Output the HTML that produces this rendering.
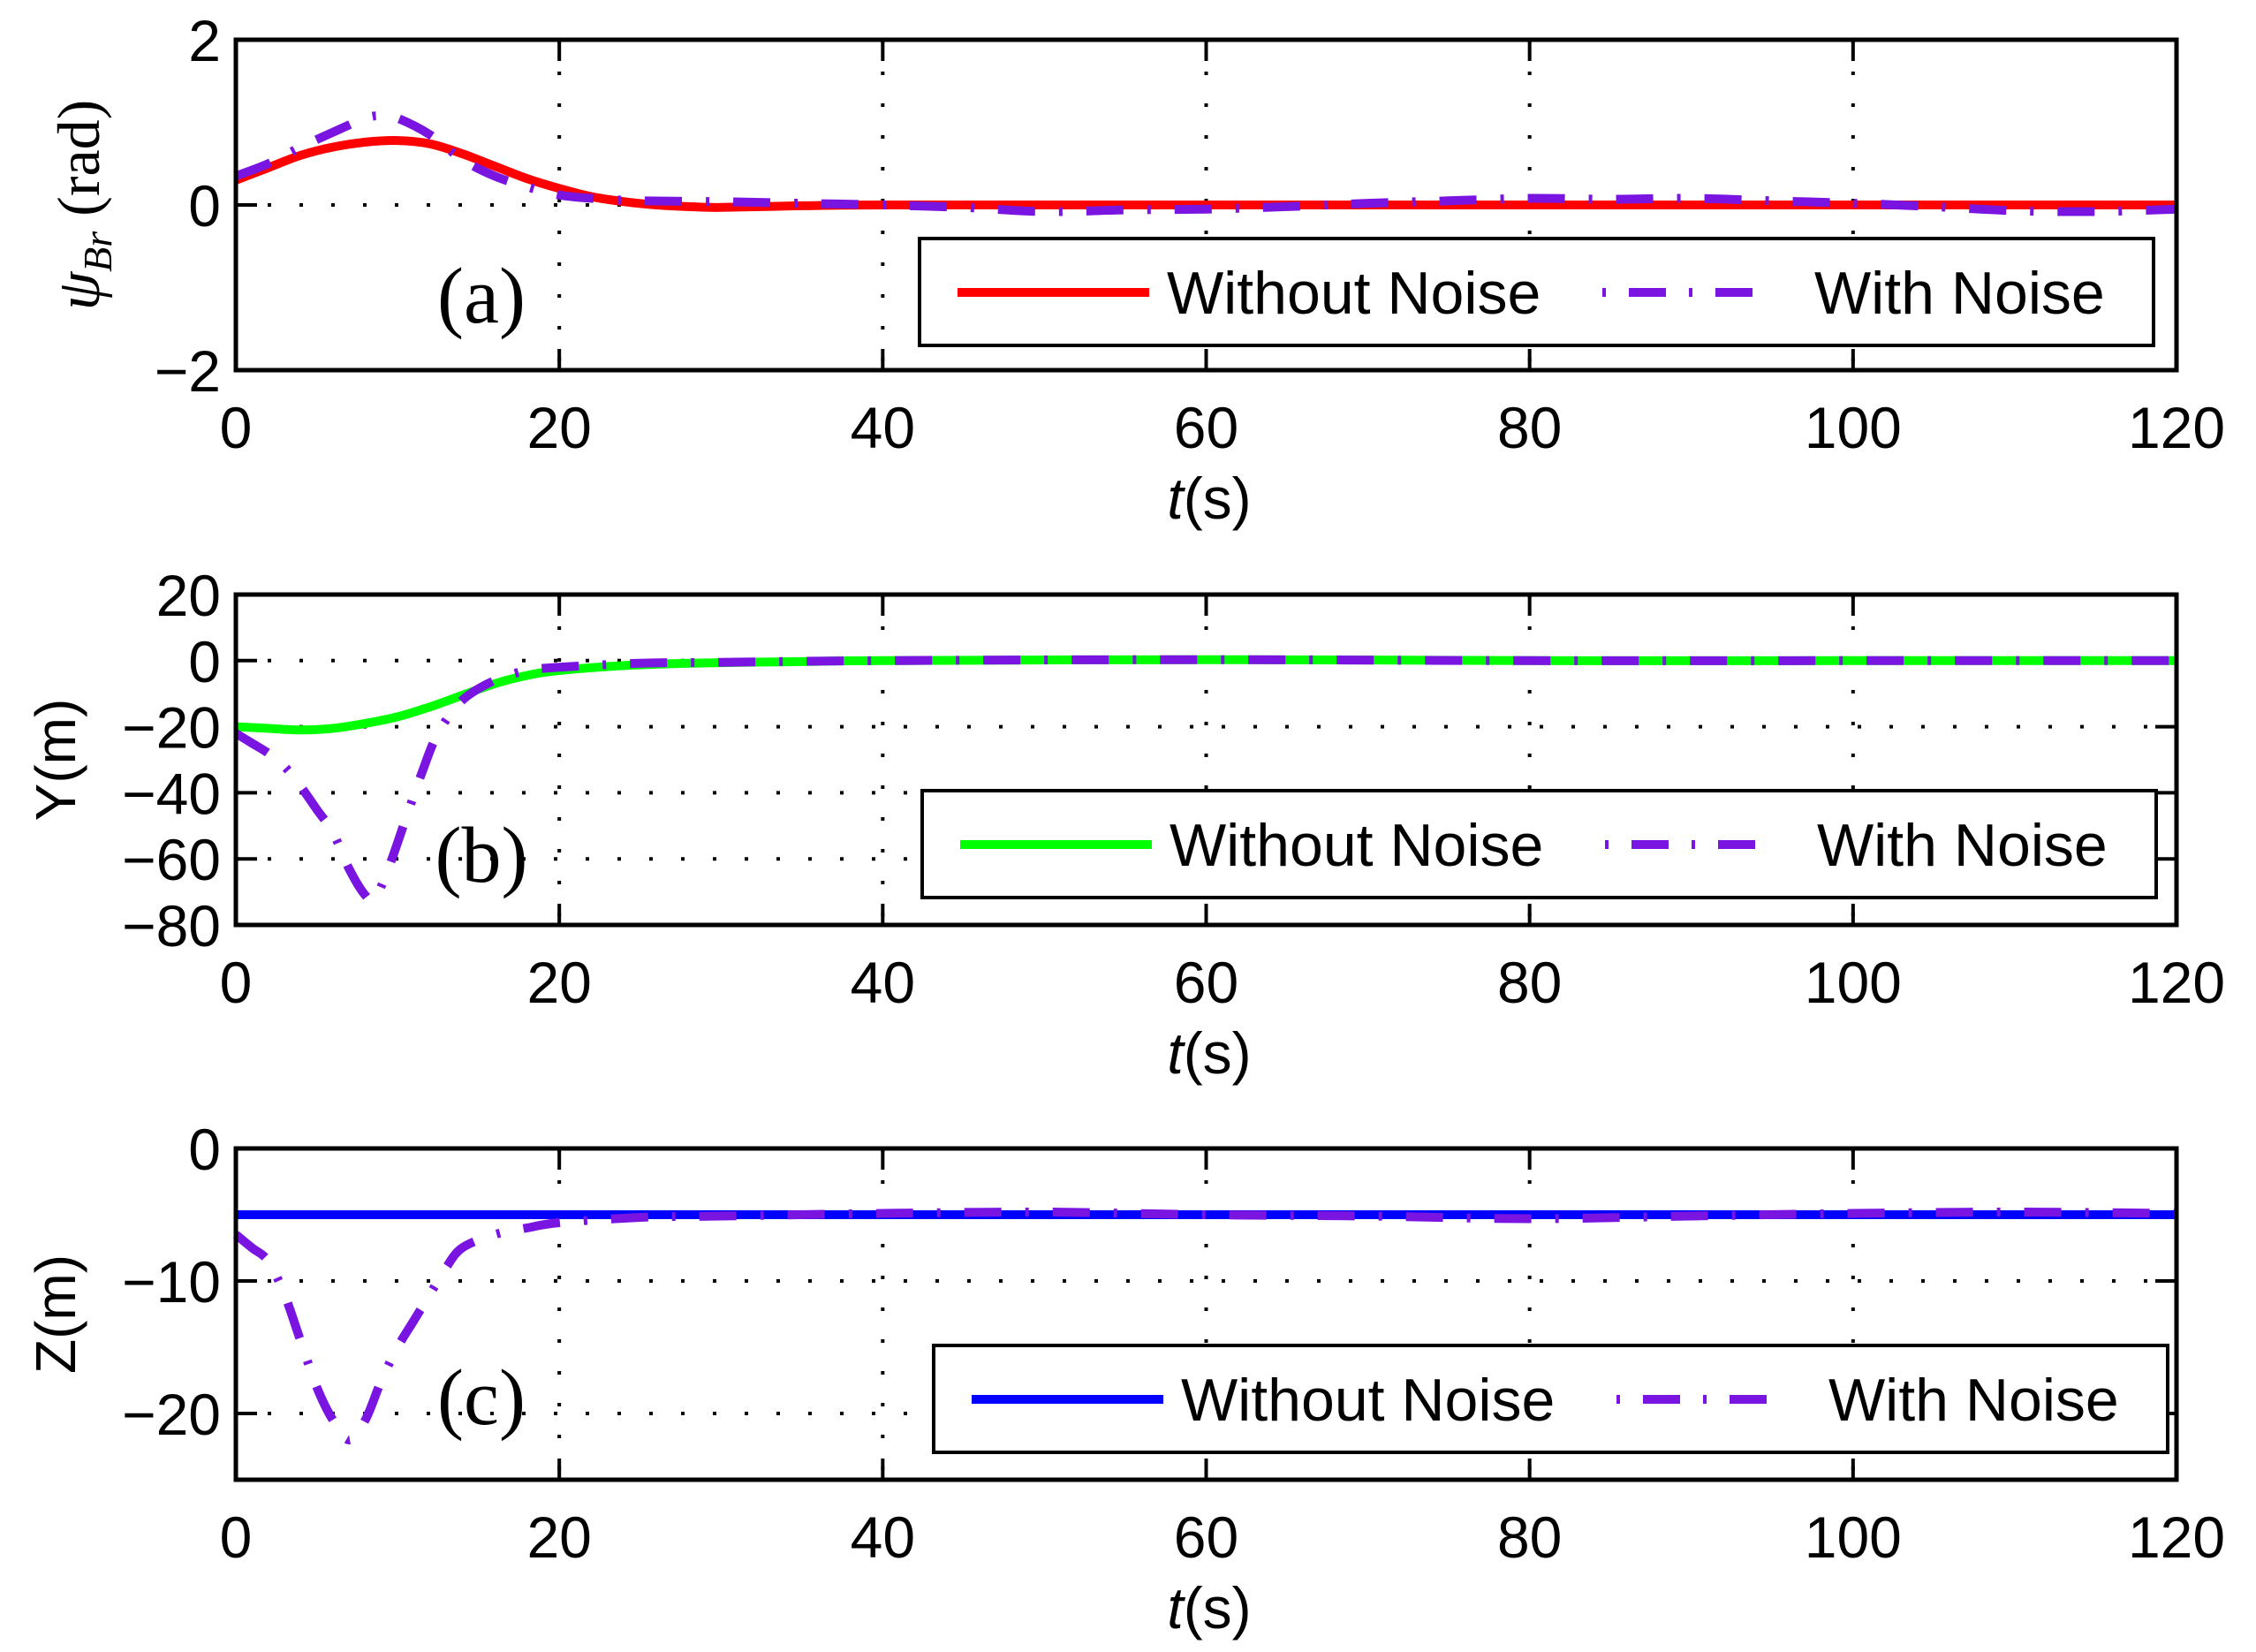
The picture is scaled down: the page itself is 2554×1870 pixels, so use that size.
<!DOCTYPE html>
<html><head><meta charset="utf-8"><title>Noise comparison</title>
<style>
html,body{margin:0;padding:0;background:#fff;}
svg{display:block;}
text{font-family:"Liberation Sans",sans-serif;fill:#000;}
.serif{font-family:"Liberation Serif",serif;}
</style></head>
<body>
<svg id="fig" width="2554" height="1870" viewBox="0 0 2554 1870" xmlns="http://www.w3.org/2000/svg"></svg>
<script>
// ---- data ----
const xTicks = [0, 20, 40, 60, 80, 100, 120];
const aTicks = [-2, 0, 2];
const bTicks = [-80, -60, -40, -20, 0, 20];
const cTicks = [-20, -10, 0];
const aCleanT = [0,2,4,6,8,10,12,14,16,18,20,22,24,26,28,30,35,40,60,80,100,120];
const aCleanV = [0.3,0.45,0.6,0.7,0.76,0.78,0.74,0.62,0.47,0.32,0.2,0.1,0.04,0.0,-0.02,-0.03,-0.01,0,0,0,0,0];
const aNoiseT = [0,2,4,6,8,9,10,12,14,16,18,20,22,25,30,35,40,45,50,55,60,65,70,75,80,85,90,95,100,105,110,115,120];
const aNoiseV = [0.35,0.5,0.7,0.88,1.05,1.08,1.05,0.85,0.55,0.35,0.22,0.12,0.08,0.05,0.04,0.02,0,-0.03,-0.08,-0.06,-0.05,-0.02,0.02,0.05,0.08,0.07,0.08,0.05,0.02,-0.02,-0.07,-0.08,-0.05];
const bCleanT = [0,2,4,6,8,10,12,14,16,18,20,24,28,35,40,60,80,100,120];
const bCleanV = [-20,-20.5,-21,-20.5,-19,-17,-14,-10.5,-7,-4.5,-3,-1.5,-0.8,-0.3,0,0.3,0,0,0];
const bNoiseT = [0,1,2,3,4,5,6,7,8,8.6,9.5,10.5,11.5,12.5,14,16,18,20,25,30,40,60,80,100,120];
const bNoiseV = [-22,-25,-28,-32,-38,-45,-52,-63,-71,-72,-62,-48,-34,-22,-12,-6,-3,-2,-0.8,-0.5,0,0.3,0,0,0];
const cCleanT = [0,120];
const cCleanV = [-5,-5];
const cNoiseT = [0,1,2,3,4,5,6,7,8,9,10,11,12,13,14,16,18,20,25,30,40,50,60,70,80,90,100,110,120];
const cNoiseV = [-6.5,-7.5,-8.5,-11,-14.5,-18,-20.5,-22,-20.5,-17.5,-15,-13,-11,-9,-7.5,-6.5,-6,-5.6,-5.2,-5.1,-4.9,-4.8,-5,-5.1,-5.3,-5.1,-4.9,-4.8,-4.9];

const NS = "http://www.w3.org/2000/svg";
const svg = document.getElementById('fig');
const X0 = 267, X1 = 2464;
const PURPLE = '#7a14e0';
function mk(tag, attrs, parent){
  const e = document.createElementNS(NS, tag);
  for (const k in attrs) e.setAttribute(k, attrs[k]);
  (parent||svg).appendChild(e);
  return e;
}
function xs(t){ return X0 + (t-0)/(120-0)*(X1-X0); }
function smooth(pts){
  let d = 'M' + pts[0][0].toFixed(1) + ',' + pts[0][1].toFixed(1);
  for (let i=0;i<pts.length-1;i++){
    const p0 = pts[i-1]||pts[i], p1 = pts[i], p2 = pts[i+1], p3 = pts[i+2]||p2;
    const c1x = p1[0] + (p2[0]-p0[0])/6, c1y = p1[1] + (p2[1]-p0[1])/6;
    const c2x = p2[0] - (p3[0]-p1[0])/6, c2y = p2[1] - (p3[1]-p1[1])/6;
    d += ' C' + c1x.toFixed(1)+','+c1y.toFixed(1)+' '+c2x.toFixed(1)+','+c2y.toFixed(1)+' '+p2[0].toFixed(1)+','+p2[1].toFixed(1);
  }
  return d;
}

function panel(key, top, bot, ymin, ymax, yTicks, cleanT, cleanV, noiseT, noiseV, cleanColor, letter, yl, ylx, legY, legX){
  const g = mk('g', {});
  
  
  const ys = v => bot - (v-ymin)/(ymax-ymin)*(bot-top);
  xTicks.forEach(t => {
    if (t===0||t===120) return;
    const l = mk('line', {x1:xs(t),x2:xs(t),y1:top,y2:bot,stroke:'#000','stroke-width':4,'stroke-dasharray':'4 32'}, g);
    
    
    const t1 = mk('line', {x1:xs(t),x2:xs(t),y1:top,y2:top+24,stroke:'#000','stroke-width':4}, g);
    
    
    const t2 = mk('line', {x1:xs(t),x2:xs(t),y1:bot-24,y2:bot,stroke:'#000','stroke-width':4}, g);
    
    
  });
  yTicks.forEach(v => {
    if (v===ymin||v===ymax) return;
    const l = mk('line', {x1:X0,x2:X1,y1:ys(v),y2:ys(v),stroke:'#000','stroke-width':4,'stroke-dasharray':'4 32'}, g);
    
    
    const t1 = mk('line', {x1:X0,x2:X0+24,y1:ys(v),y2:ys(v),stroke:'#000','stroke-width':4}, g);
    
    
    const t2 = mk('line', {x1:X1-24,x2:X1,y1:ys(v),y2:ys(v),stroke:'#000','stroke-width':4}, g);
    
    
  });
  const cpts = cleanT.map((t,i)=>[xs(t), ys(cleanV[i])]);
  const cl = mk('path', {d:smooth(cpts),fill:'none',stroke:cleanColor,'stroke-width':10,'stroke-linejoin':'round'}, g);
  
  
  const npts = noiseT.map((t,i)=>[xs(t), ys(noiseV[i])]);
  const nl = mk('path', {d:smooth(npts),fill:'none',stroke:PURPLE,'stroke-width':10,'stroke-dasharray':'42 27 4 27'}, g);
  
  
  const fr = mk('rect', {x:X0,y:top,width:X1-X0,height:bot-top,fill:'none',stroke:'#000','stroke-width':5}, g);
  
  
  xTicks.forEach(t => {
    const tx = mk('text', {x:xs(t),y:bot+88,'font-size':66,'text-anchor':'middle'}, g);
    tx.textContent = t;
    
    
  });
  yTicks.forEach(v => {
    const tx = mk('text', {x:250,y:ys(v)+24,'font-size':66,'text-anchor':'end'}, g);
    tx.textContent = v < 0 ? '\u2212' + Math.abs(v) : String(v);
    
    
  });
  const xl = mk('text', {x:1369,y:bot+168,'font-size':66,'text-anchor':'middle'}, g);
  xl.innerHTML = '<tspan font-style="italic">t</tspan>(s)';
  
  
  const yc = (top+bot)/2;
  const yt = mk('text', {x:ylx,y:yc,'font-size':64,'text-anchor':'middle',transform:'rotate(-90 '+ylx+' '+yc+')'}, g);
  yt.innerHTML = yl;
  
  
  const lt = mk('text', {x:545,y:letter.y,'font-size':90,'text-anchor':'middle','class':'serif'}, g);
  lt.textContent = letter.t;
  
  
  const lg = mk('g', {}, g);
  
  
  const lr = mk('rect', {x:legX,y:legY,width:1397,height:121,fill:'#fff',stroke:'#000','stroke-width':4}, lg);
  
  
  const my = legY + 61;
  const s1 = mk('line', {x1:legX+43,x2:legX+260,y1:my,y2:my,stroke:cleanColor,'stroke-width':10}, lg);
  
  
  const t1 = mk('text', {x:legX+280,y:my+24,'font-size':68}, lg);
  t1.textContent = 'Without Noise';
  
  
  const s2 = mk('line', {x1:legX+773,x2:legX+953,y1:my,y2:my,stroke:PURPLE,'stroke-width':10,'stroke-dasharray':'4 26 42 26 4 26 42 26 4'}, lg);
  
  
  const t2 = mk('text', {x:legX+1013,y:my+24,'font-size':68}, lg);
  t2.textContent = 'With Noise';
  
  
}

panel('a', 45, 419, -2, 2, aTicks, aCleanT, aCleanV, aNoiseT, aNoiseV, '#ff0000',
  {t:'(a)', y:365},
  '<tspan class="serif" font-style="italic" font-size="70">\u03C8</tspan><tspan class="serif" font-style="italic" font-size="46" dy="14">Br</tspan><tspan class="serif" dy="-14" font-size="68"> (rad)</tspan>',
  112, 270, 1041);
panel('b', 673, 1047, -80, 20, bTicks, bCleanT, bCleanV, bNoiseT, bNoiseV, '#00ff00',
  {t:'(b)', y:998}, 'Y(m)', 85, 895, 1044);
panel('c', 1300, 1675, -25, 0, cTicks, cCleanT, cCleanV, cNoiseT, cNoiseV, '#0000ff',
  {t:'(c)', y:1612}, 'Z(m)', 85, 1523, 1057);
</script>
</body></html>
